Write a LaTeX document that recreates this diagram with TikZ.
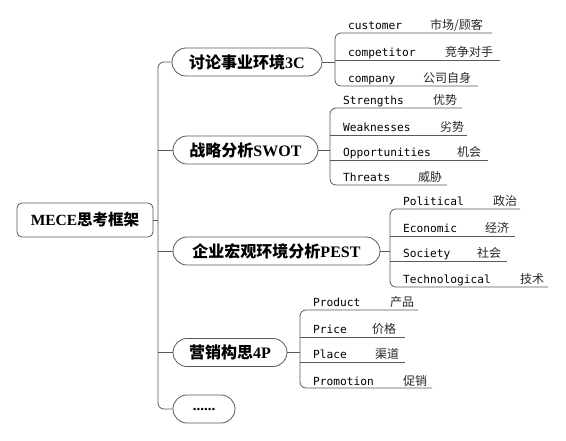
\documentclass[tikz,border=0pt]{standalone}
\usepackage{fontspec}
\setmainfont{Liberation Serif}
\newfontfamily\cjk{Noto Sans CJK SC}
\newfontfamily\monof{DejaVu Sans Mono}
\begin{document}
\begin{tikzpicture}[x=1pt,y=-1pt,
  ln/.style={draw=black!65, line width=0.8pt},
  br/.style={ln, rounded corners=14pt, minimum height=28pt, inner sep=0pt,
    font=\bfseries\fontsize{16}{16}\selectfont},
  rootbox/.style={ln, rounded corners=5pt, minimum height=34pt, minimum width=136pt, inner sep=0pt,
    font=\bfseries\fontsize{15.5}{15.5}\selectfont},
  lat/.style={anchor=base west, inner sep=0pt, font=\monof\fontsize{11.2}{11.2}\selectfont},
  chn/.style={anchor=base west, inner sep=0pt, font=\cjk\fontsize{12}{12}\selectfont, text=black!85},
  fork/.style={ln, rounded corners=6pt}
]
\useasboundingbox (0,0) rectangle (566,441);

% root
\node[rootbox] (root) at (85,220) {MECE{\cjk 思考框架}};

% branches
\node[br, minimum width=150pt] (b1) at (247,62) {{\cjk 讨论事业环境}3C};
\node[br, minimum width=145pt] (b2) at (245.5,150) {{\cjk 战略分析}SWOT};
\node[br, minimum width=207pt] (b3) at (276.5,251) {{\cjk 企业宏观环境分析}PEST};
\node[br, minimum width=114pt] (b4) at (230,352.5) {{\cjk 营销构思}4P};
\node[br, minimum width=62pt] (b5) at (204,409) {\fontsize{15}{15}\selectfont ......};

% trunk
\coordinate (tt) at (158,62);
\coordinate (tb) at (158,409);
\draw[fork] (b1.west) -- (tt) -- (tb) -- (b5.west);
\draw[ln] (root.east) -- (root.east -| tt);
\draw[ln] (b2.west) -- (b2.west -| tt);
\draw[ln] (b3.west) -- (b3.west -| tt);
\draw[ln] (b4.west) -- (b4.west -| tt);

% ---------- branch 1
\coordinate (v11) at (335,33); \coordinate (e11) at (492,33);
\coordinate (v12) at (335,60); \coordinate (e12) at (500,60);
\coordinate (v13) at (335,86); \coordinate (e13) at (478,86);
\draw[fork] (e11) -- (v11) -- (v13) -- (e13);
\draw[ln] (v12) -- (e12);
\draw[ln] (b1.east) -- (b1.east -| v11);
\node[lat] (t11) at (348,30) {customer};   \node[chn] (c11) at (430,30) {市场/顾客};
\node[lat] (t12) at (348,57) {competitor}; \node[chn] (c12) at (445,57) {竞争对手};
\node[lat] (t13) at (348,83) {company};    \node[chn] (c13) at (423,83) {公司自身};

% ---------- branch 2
\coordinate (v21) at (330,108); \coordinate (e21) at (462,108);
\coordinate (v22) at (330,135); \coordinate (e22) at (467,135);
\coordinate (v23) at (330,160); \coordinate (e23) at (488,160);
\coordinate (v24) at (330,185); \coordinate (e24) at (447,185);
\draw[fork] (e21) -- (v21) -- (v24) -- (e24);
\draw[ln] (v22) -- (e22);
\draw[ln] (v23) -- (e23);
\draw[ln] (b2.east) -- (b2.east -| v21);
\node[lat] (t21) at (343,105) {Strengths};     \node[chn] (c21) at (433,105) {优势};
\node[lat] (t22) at (343,132) {Weaknesses};    \node[chn] (c22) at (440,132) {劣势};
\node[lat] (t23) at (343,157) {Opportunities}; \node[chn] (c23) at (457,157) {机会};
\node[lat] (t24) at (343,182) {Threats};       \node[chn] (c24) at (418,182) {威胁};

% ---------- branch 3
\coordinate (v31) at (390,209); \coordinate (e31) at (520,209);
\coordinate (v32) at (390,236); \coordinate (e32) at (515,236);
\coordinate (v33) at (390,261); \coordinate (e33) at (507,261);
\coordinate (v34) at (390,287); \coordinate (e34) at (548,287);
\draw[fork] (e31) -- (v31) -- (v34) -- (e34);
\draw[ln] (v32) -- (e32);
\draw[ln] (v33) -- (e33);
\draw[ln] (b3.east) -- (b3.east -| v31);
\node[lat] (t31) at (403,206) {Political};     \node[chn] (c31) at (493,206) {政治};
\node[lat] (t32) at (403,233) {Economic};      \node[chn] (c32) at (485,233) {经济};
\node[lat] (t33) at (403,258) {Society};       \node[chn] (c33) at (477,258) {社会};
\node[lat] (t34) at (403,284) {Technological}; \node[chn] (c34) at (520,284) {技术};

% ---------- branch 4
\coordinate (v41) at (300,310); \coordinate (e41) at (418,310);
\coordinate (v42) at (300,337); \coordinate (e42) at (405,337);
\coordinate (v43) at (300,362); \coordinate (e43) at (405,362);
\coordinate (v44) at (300,388); \coordinate (e44) at (432,388);
\draw[fork] (e41) -- (v41) -- (v44) -- (e44);
\draw[ln] (v42) -- (e42);
\draw[ln] (v43) -- (e43);
\draw[ln] (b4.east) -- (b4.east -| v41);
\node[lat] (t41) at (313,307) {Product};   \node[chn] (c41) at (390,307) {产品};
\node[lat] (t42) at (313,334) {Price};     \node[chn] (c42) at (372,334) {价格};
\node[lat] (t43) at (313,359) {Place};     \node[chn] (c43) at (375,359) {渠道};
\node[lat] (t44) at (313,385) {Promotion}; \node[chn] (c44) at (403,385) {促销};
\end{tikzpicture}
\end{document}
